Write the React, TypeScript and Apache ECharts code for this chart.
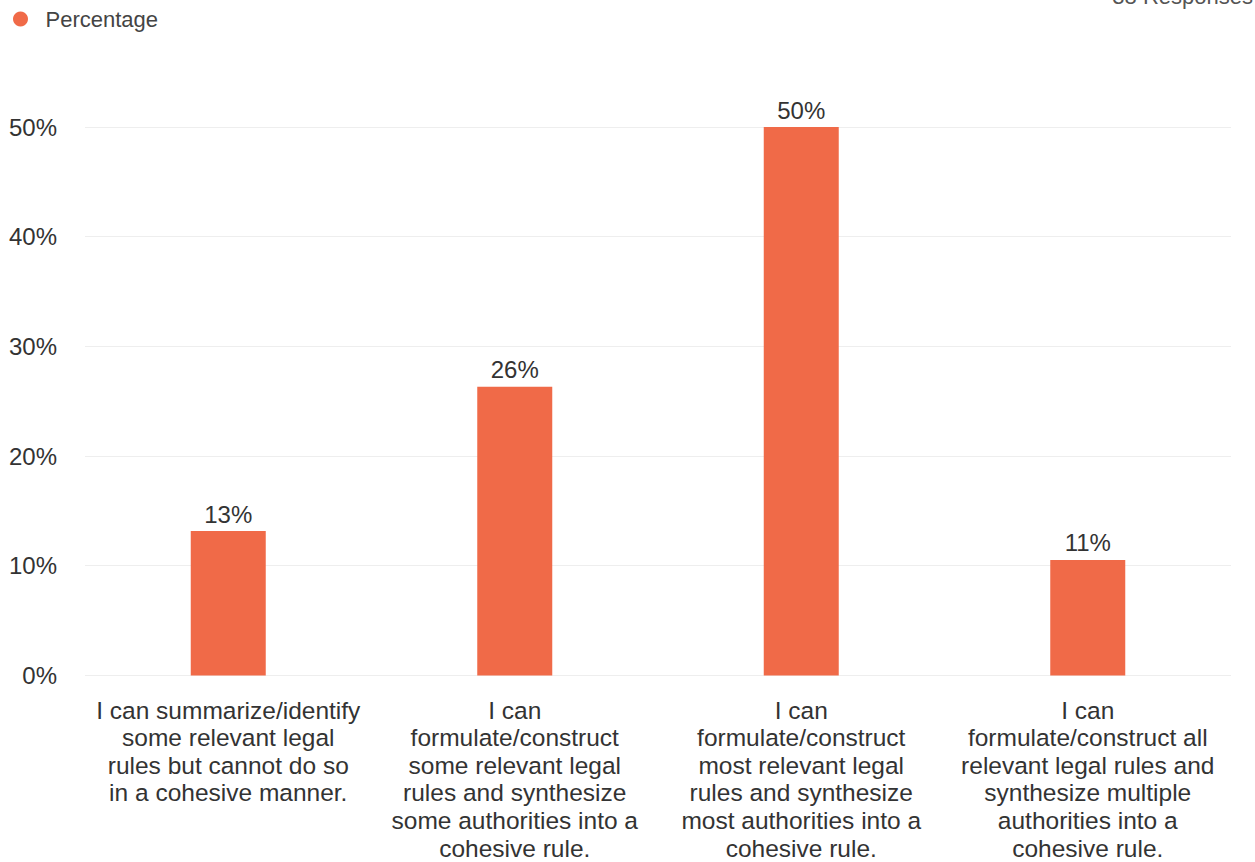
import React, { useEffect, useRef } from "react";
import * as echarts from "echarts";

const categories = [
  "I can summarize/identify\nsome relevant legal\nrules but cannot do so\nin a cohesive manner.",
  "I can\nformulate/construct\nsome relevant legal\nrules and synthesize\nsome authorities into a\ncohesive rule.",
  "I can\nformulate/construct\nmost relevant legal\nrules and synthesize\nmost authorities into a\ncohesive rule.",
  "I can\nformulate/construct all\nrelevant legal rules and\nsynthesize multiple\nauthorities into a\ncohesive rule.",
];
const percentages = [13.16, 26.32, 50, 10.53];
const seriesName = "Percentage";
const responsesText = "38 Responses";

export default function App() {
  const ref = useRef<HTMLDivElement>(null);
  useEffect(() => {
    if (!ref.current) return;
    const chart = echarts.init(ref.current, undefined, { renderer: "svg" });
    const font = "Liberation Sans, Arial, sans-serif";
    chart.setOption({
      animation: false,
      backgroundColor: "#ffffff",
      textStyle: { fontFamily: font },
      legend: {
        left: 8,
        top: 3,
        icon: "circle",
        itemWidth: 40,
        itemHeight: 15,
        itemGap: 10,
        textStyle: { fontSize: 22, color: "#444", fontFamily: font },
        data: [seriesName],
      },
      graphic: [
        {
          type: "text",
          right: 2,
          top: -15,
          style: { text: responsesText, fontSize: 22, fill: "#555", fontFamily: font },
        },
      ],
      grid: { left: 85, right: 24, top: 127, bottom: 184, containLabel: false },
      xAxis: {
        type: "category",
        data: categories,
        axisLine: { show: false },
        axisTick: { show: false },
        axisLabel: {
          interval: 0,
          margin: 21,
          fontSize: 24.5,
          lineHeight: 27.6,
          color: "#333",
          fontFamily: font,
          align: "center",
        },
      },
      yAxis: {
        type: "value",
        min: 0,
        max: 50,
        interval: 10,
        axisLine: { show: false },
        axisTick: { show: false },
        axisLabel: {
          formatter: "{value}%",
          fontSize: 24,
          color: "#333",
          margin: 28,
          fontFamily: font,
        },
        splitLine: { lineStyle: { color: "#eeeeee", width: 1 } },
      },
      series: [
        {
          name: seriesName,
          type: "bar",
          data: percentages,
          barWidth: 75,
          itemStyle: { color: "#F06A48" },
          label: {
            show: true,
            position: "top",
            distance: 5,
            fontSize: 24,
            color: "#333",
            fontFamily: font,
            formatter: (p: any) => Math.round(p.value) + "%",
          },
        },
      ],
    });
    return () => chart.dispose();
  }, []);
  return <div ref={ref} style={{ width: 1255, height: 862, position: "absolute", left: 0, top: 0 }} />;
}
